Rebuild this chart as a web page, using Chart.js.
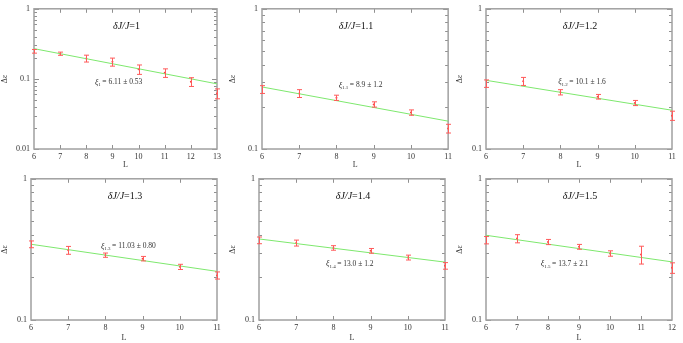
<!DOCTYPE html>
<html>
<head>
<meta charset="utf-8">
<script src="https://cdn.jsdelivr.net/npm/chart.js@4.4.0/dist/chart.umd.min.js"></script>
<style>
body { margin: 0; background: #fff; width: 683px; height: 343px; position: relative; overflow: hidden; }
canvas { position: absolute; }
</style>
</head>
<body>
<canvas id="c1" width="228" height="170" style="left:0;top:0"></canvas>
<canvas id="c2" width="227" height="170" style="left:228px;top:0"></canvas>
<canvas id="c3" width="228" height="170" style="left:455px;top:0"></canvas>
<canvas id="c4" width="228" height="173" style="left:0;top:170px"></canvas>
<canvas id="c5" width="227" height="173" style="left:228px;top:170px"></canvas>
<canvas id="c6" width="228" height="173" style="left:455px;top:170px"></canvas>
<script>
// valores (L, delta epsilon, erro, reta de ajuste)
const L1 = [6, 7, 8, 9, 10, 11, 12, 13];
const de1 = [0.248, 0.229, 0.196, 0.175, 0.137, 0.122, 0.091, 0.062];
const err1 = [0.015, 0.012, 0.022, 0.023, 0.021, 0.017, 0.013, 0.010];
const fit1 = [0.270, 0.085];

const L2 = [6, 7, 8, 9, 10, 11];
const de2 = [0.266, 0.249, 0.232, 0.208, 0.182, 0.140];
const err2 = [0.017, 0.016, 0.010, 0.009, 0.008, 0.010];
const fit2 = [0.277, 0.158];

const L3 = [6, 7, 8, 9, 10, 11];
const de3 = [0.293, 0.304, 0.254, 0.236, 0.213, 0.173];
const err3 = [0.018, 0.020, 0.011, 0.009, 0.009, 0.013];
const fit3 = [0.309, 0.189];

const L4 = [6, 7, 8, 9, 10, 11];
const de4 = [0.344, 0.312, 0.288, 0.272, 0.238, 0.207];
const err4 = [0.019, 0.020, 0.010, 0.010, 0.010, 0.012];
const fit4 = [0.344, 0.221];

const L5 = [6, 7, 8, 9, 10, 11];
const de5 = [0.367, 0.351, 0.324, 0.309, 0.277, 0.242];
const err5 = [0.020, 0.017, 0.012, 0.012, 0.011, 0.013];
const fit5 = [0.375, 0.257];

const L6 = [6, 7, 8, 9, 10, 11, 12];
const de6 = [0.368, 0.377, 0.357, 0.330, 0.296, 0.291, 0.234];
const err6 = [0.022, 0.025, 0.015, 0.013, 0.013, 0.042, 0.020];
const fit6 = [0.398, 0.258];

const yTicks1 = [0.01, 0.1, 1];
const yTicks = [0.1, 1];

const titles = ['1', '1.1', '1.2', '1.3', '1.4', '1.5'];
const xiSub = ['1', '1.1', '1.2', '1.3', '1.4', '1.5'];
const xiText = ['6.11 ± 0.53', '8.9 ± 1.2', '10.1 ± 1.6', '11.03 ± 0.80', '13.0 ± 1.2', '13.7 ± 2.1'];

const SERIF = '"Liberation Serif", "DejaVu Serif", serif';
const AXIS = '#a0a0a0';

// desenha moldura, marcas, barras de erro e textos
const framePlugin = {
    id: 'frame',
    beforeDatasetsDraw(chart, args, opts) {
        const ctx = chart.ctx;
        const a = chart.chartArea;
        const xs = chart.scales.x;
        const ys = chart.scales.y;
        ctx.save();
        ctx.strokeStyle = '#909090';
        ctx.lineWidth = 1;
        // marcas do eixo x
        ctx.beginPath();
        xs.ticks.forEach(t => {
            const px = Math.round(xs.getPixelForValue(t.value)) + 0.5;
            if (px <= a.left + 1 || px >= a.right - 1) return;
            ctx.moveTo(px, a.bottom); ctx.lineTo(px, a.bottom - 4);
            ctx.moveTo(px, a.top); ctx.lineTo(px, a.top + 4);
        });
        // marcas menores do eixo log
        for (let d = ys.min; d < ys.max * 0.999; d *= 10) {
            for (let k = 2; k <= 9; k++) {
                const py = Math.round(ys.getPixelForValue(k * d)) + 0.5;
                ctx.moveTo(a.left, py); ctx.lineTo(a.left + 3, py);
                ctx.moveTo(a.right, py); ctx.lineTo(a.right - 3, py);
            }
        }
        ys.ticks.forEach(t => {
            const py = Math.round(ys.getPixelForValue(t.value)) + 0.5;
            ctx.moveTo(a.left, py); ctx.lineTo(a.left + 5, py);
            ctx.moveTo(a.right, py); ctx.lineTo(a.right - 5, py);
        });
        ctx.stroke();
        // moldura
        ctx.strokeStyle = AXIS;
        ctx.lineWidth = 1.5;
        ctx.strokeRect(a.left, a.top, a.right - a.left, a.bottom - a.top);
        ctx.restore();
    },
    afterDatasetsDraw(chart, args, opts) {
        const ctx = chart.ctx;
        const a = chart.chartArea;
        const ys = chart.scales.y;
        const xs = chart.scales.x;
        const ds = chart.data.datasets[1];
        const meta = chart.getDatasetMeta(1);
        ctx.save();
        ctx.strokeStyle = '#ff5a5a';
        ctx.lineWidth = 1;
        ctx.beginPath();
        meta.data.forEach((pt, i) => {
            const v = ds.data[i].y;
            const e = ds.err[i];
            const x = Math.round(pt.x) + 0.5;
            const y1 = ys.getPixelForValue(v + e);
            const y2 = ys.getPixelForValue(v - e);
            ctx.moveTo(x, y1); ctx.lineTo(x, y2);
            ctx.moveTo(x - 2.5, y1); ctx.lineTo(x + 2.5, y1);
            ctx.moveTo(x - 2.5, y2); ctx.lineTo(x + 2.5, y2);
        });
        ctx.stroke();

        // título do painel
        ctx.fillStyle = '#111';
        ctx.textBaseline = 'middle';
        const f1 = 'italic 10px ' + SERIF;
        const f2 = '10px ' + SERIF;
        ctx.font = f1;
        const w1 = ctx.measureText('δJ/J').width;
        ctx.font = f2;
        const w2 = ctx.measureText('=' + opts.title).width;
        let tx = (a.left + a.right) / 2 + 1 - (w1 + w2) / 2;
        const ty = a.top + 18;
        ctx.font = f1;
        ctx.fillText('δJ/J', tx, ty);
        ctx.font = f2;
        ctx.fillText('=' + opts.title, tx + w1, ty);

        // anotação do comprimento de correlação
        let ax = xs.getPixelForValue(opts.ax);
        const ay = ys.getPixelForValue(opts.ay);
        ctx.fillStyle = '#333';
        ctx.font = 'italic 8px ' + SERIF;
        ctx.fillText('ξ', ax, ay);
        ax += ctx.measureText('ξ').width;
        ctx.font = '5px ' + SERIF;
        ctx.fillText(opts.sub, ax, ay + 2);
        ax += ctx.measureText(opts.sub).width + 1.5;
        ctx.font = '7.5px ' + SERIF;
        ctx.fillText('= ' + opts.text, ax, ay);
        ctx.restore();
    }
};

function makePanel(id, L, de, err, fit, yt, idx, pad, note) {
    const points = L.map((x, i) => ({ x: x, y: de[i] }));
    const fitLine = [{ x: L[0], y: fit[0] }, { x: L[L.length - 1], y: fit[1] }];
    const tickFont = { family: SERIF, size: 8 };
    new Chart(document.getElementById(id), {
        type: 'scatter',
        data: {
            datasets: [
                {
                    type: 'line',
                    data: fitLine,
                    borderColor: '#7ee86e',
                    borderWidth: 1,
                    pointRadius: 0,
                    fill: false
                },
                {
                    data: points,
                    err: err,
                    pointRadius: 1,
                    pointBackgroundColor: '#ff4040',
                    pointBorderColor: '#ff4040',
                    borderWidth: 0
                }
            ]
        },
        options: {
            responsive: false,
            animation: false,
            layout: { padding: { top: pad.top, right: pad.right, left: 0, bottom: 0 } },
            plugins: {
                legend: { display: false },
                tooltip: { enabled: false },
                frame: { title: titles[idx], sub: xiSub[idx], text: xiText[idx], ax: note[0], ay: note[1] }
            },
            scales: {
                x: {
                    type: 'linear',
                    min: L[0],
                    max: L[L.length - 1],
                    grid: { display: false, drawTicks: false, tickLength: 0 },
                    border: { display: false },
                    ticks: { stepSize: 1, font: tickFont, color: '#333', padding: 3, maxRotation: 0 },
                    title: { display: true, text: 'L', font: tickFont, color: '#333', padding: 0 },
                    afterFit: s => { s.height = pad.xh; }
                },
                y: {
                    type: 'logarithmic',
                    min: yt[0],
                    max: yt[yt.length - 1],
                    grid: { display: false, drawTicks: false, tickLength: 0 },
                    border: { display: false },
                    afterBuildTicks: s => { s.ticks = yt.map(v => ({ value: v })); },
                    ticks: { font: tickFont, color: '#333', padding: 4, callback: v => String(v) },
                    title: { display: true, text: 'Δε', font: tickFont, color: '#333', padding: 0 },
                    afterFit: s => { s.width = pad.left; }
                }
            }
        },
        plugins: [framePlugin]
    });
}

makePanel('c1', L1, de1, err1, fit1, yTicks1, 0, { top: 8, right: 11, left: 34, xh: 21 }, [8.33, 0.089]);
makePanel('c2', L2, de2, err2, fit2, yTicks, 1, { top: 8, right: 6, left: 34, xh: 21 }, [8.06, 0.284]);
makePanel('c3', L3, de3, err3, fit3, yTicks, 2, { top: 8, right: 11, left: 31, xh: 21 }, [7.94, 0.299]);
makePanel('c4', L4, de4, err4, fit4, yTicks, 3, { top: 8, right: 11, left: 31, xh: 23 }, [7.88, 0.332]);
makePanel('c5', L5, de5, err5, fit5, yTicks, 4, { top: 8, right: 10, left: 31, xh: 23 }, [7.80, 0.248]);
makePanel('c6', L6, de6, err6, fit6, yTicks, 5, { top: 8, right: 11, left: 31, xh: 23 }, [7.77, 0.248]);
</script>
</body>
</html>
